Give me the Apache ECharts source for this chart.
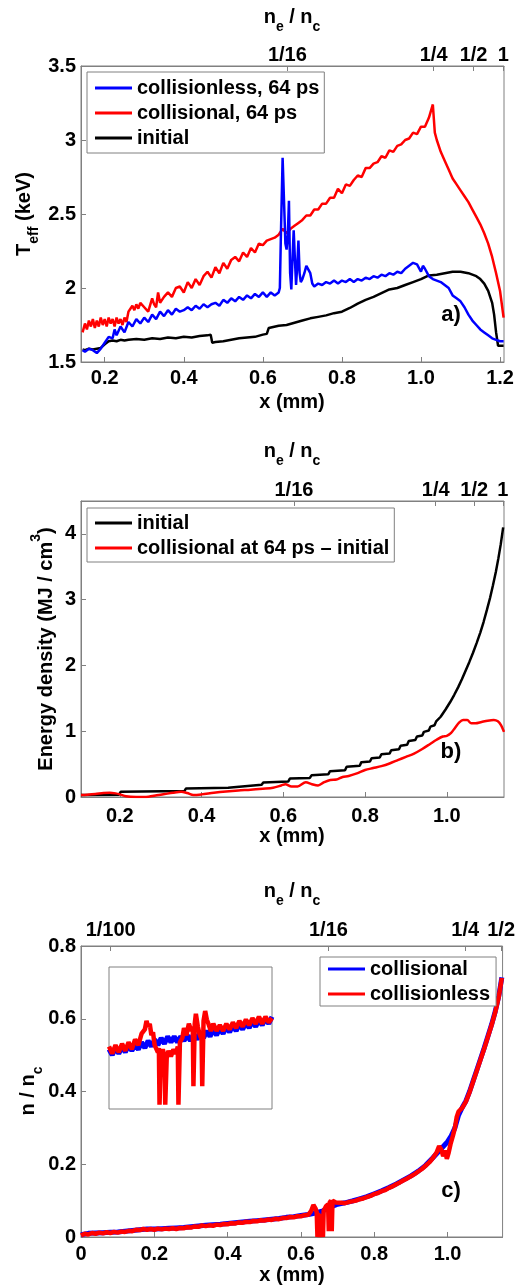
<!DOCTYPE html>
<html><head><meta charset="utf-8">
<script src="https://cdn.jsdelivr.net/npm/echarts@6/dist/echarts.min.js"></script>
<style>html,body{margin:0;padding:0;background:#fff}#chart{width:518px;height:1285px}</style>
</head><body><div id="chart"></div>
<script>
const FONT = '"Liberation Sans", Arial, Helvetica, sans-serif';

// ---------- Panel a) ----------
const aBottomTicks = [0.2, 0.4, 0.6, 0.8, 1.0, 1.2];
const aYTicks = [1.5, 2, 2.5, 3, 3.5];
const aTopTickPos = [0.662, 1.032, 1.133, 1.208];
const aTopTickLabels = ['1/16', '1/4', '1/2', '1'];
const aCollisionless = [
[0.144,1.58],[0.15,1.57],[0.16,1.59],[0.17,1.58],[0.18,1.56],[0.19,1.59],[0.20,1.63],[0.21,1.67],[0.22,1.66],[0.225,1.72],[0.23,1.68],[0.24,1.74],[0.25,1.70],[0.26,1.77],[0.27,1.74],[0.28,1.79],[0.29,1.76],[0.30,1.80],[0.31,1.77],[0.32,1.82],[0.33,1.79],[0.34,1.84],[0.35,1.81],[0.36,1.85],[0.37,1.82],[0.38,1.86],[0.39,1.84],[0.40,1.85],[0.41,1.87],[0.42,1.85],[0.43,1.88],[0.44,1.86],[0.45,1.89],[0.46,1.87],[0.47,1.89],[0.48,1.90],[0.49,1.88],[0.50,1.92],[0.51,1.90],[0.52,1.93],[0.53,1.91],[0.54,1.94],[0.55,1.92],[0.56,1.95],[0.57,1.93],[0.58,1.96],[0.59,1.94],[0.60,1.97],[0.61,1.94],[0.62,1.97],[0.63,1.95],[0.64,1.97],[0.643,2.00],[0.646,2.40],[0.650,2.88],[0.654,2.55],[0.657,2.30],[0.660,2.26],[0.663,2.35],[0.666,2.59],[0.669,2.10],[0.672,1.99],[0.675,2.20],[0.678,2.39],[0.681,2.20],[0.684,2.02],[0.687,2.15],[0.690,2.32],[0.693,2.10],[0.696,2.04],[0.70,2.06],[0.705,2.10],[0.71,2.15],[0.715,2.16],[0.72,2.10],[0.725,2.03],[0.73,2.01],[0.74,2.03],[0.75,2.02],[0.76,2.04],[0.77,2.03],[0.78,2.05],[0.79,2.03],[0.80,2.05],[0.81,2.04],[0.82,2.06],[0.83,2.04],[0.84,2.06],[0.85,2.05],[0.86,2.07],[0.87,2.06],[0.88,2.08],[0.89,2.07],[0.90,2.09],[0.91,2.08],[0.92,2.10],[0.93,2.09],[0.94,2.11],[0.95,2.10],[0.96,2.13],[0.97,2.15],[0.98,2.17],[0.99,2.16],[1.00,2.11],[1.005,2.15],[1.01,2.13],[1.02,2.08],[1.03,2.06],[1.04,2.05],[1.05,2.04],[1.06,2.02],[1.07,2.00],[1.08,1.95],[1.09,1.93],[1.10,1.91],[1.11,1.87],[1.12,1.82],[1.13,1.78],[1.14,1.75],[1.15,1.72],[1.16,1.70],[1.17,1.68],[1.18,1.66],[1.19,1.65],[1.20,1.64],[1.209,1.64]
];
const aCollisional = [
[0.144,1.70],[0.15,1.76],[0.155,1.72],[0.16,1.78],[0.165,1.74],[0.17,1.79],[0.175,1.73],[0.18,1.78],[0.185,1.74],[0.19,1.80],[0.195,1.75],[0.20,1.79],[0.205,1.74],[0.21,1.80],[0.215,1.76],[0.22,1.79],[0.225,1.74],[0.23,1.80],[0.235,1.76],[0.24,1.79],[0.245,1.75],[0.25,1.80],[0.255,1.77],[0.26,1.84],[0.27,1.88],[0.275,1.85],[0.28,1.89],[0.285,1.86],[0.29,1.90],[0.30,1.87],[0.31,1.84],[0.32,1.93],[0.325,1.89],[0.33,1.87],[0.335,1.97],[0.34,1.90],[0.35,1.94],[0.36,1.97],[0.37,1.94],[0.38,2.00],[0.39,2.01],[0.40,1.97],[0.41,2.04],[0.42,2.00],[0.43,2.06],[0.44,2.02],[0.45,2.08],[0.46,2.11],[0.47,2.07],[0.48,2.14],[0.49,2.10],[0.50,2.17],[0.51,2.13],[0.52,2.19],[0.53,2.21],[0.54,2.18],[0.55,2.24],[0.56,2.21],[0.57,2.27],[0.58,2.24],[0.59,2.30],[0.60,2.29],[0.61,2.32],[0.62,2.33],[0.63,2.34],[0.64,2.36],[0.65,2.40],[0.66,2.37],[0.67,2.40],[0.68,2.42],[0.69,2.44],[0.70,2.46],[0.71,2.49],[0.72,2.49],[0.73,2.53],[0.74,2.53],[0.75,2.57],[0.76,2.57],[0.77,2.61],[0.78,2.61],[0.79,2.67],[0.80,2.64],[0.81,2.70],[0.82,2.69],[0.83,2.73],[0.84,2.76],[0.85,2.75],[0.86,2.81],[0.87,2.81],[0.88,2.84],[0.89,2.85],[0.90,2.89],[0.91,2.88],[0.92,2.93],[0.93,2.92],[0.94,2.96],[0.95,2.97],[0.96,3.00],[0.97,3.01],[0.98,3.05],[0.99,3.04],[1.00,3.09],[1.01,3.09],[1.02,3.15],[1.03,3.24],[1.035,3.05],[1.04,3.00],[1.05,2.92],[1.06,2.86],[1.07,2.80],[1.08,2.74],[1.09,2.70],[1.10,2.66],[1.11,2.62],[1.12,2.58],[1.13,2.53],[1.14,2.48],[1.15,2.43],[1.16,2.37],[1.17,2.30],[1.18,2.21],[1.19,2.10],[1.20,1.98],[1.209,1.80]
];
const aInitial = [
[0.144,1.585],[0.15,1.58],[0.16,1.59],[0.17,1.585],[0.18,1.59],[0.19,1.595],[0.20,1.62],[0.21,1.64],[0.22,1.645],[0.23,1.64],[0.24,1.65],[0.25,1.645],[0.26,1.65],[0.28,1.655],[0.30,1.65],[0.32,1.66],[0.34,1.655],[0.36,1.665],[0.38,1.66],[0.40,1.67],[0.42,1.665],[0.44,1.675],[0.46,1.68],[0.468,1.685],[0.472,1.63],[0.48,1.635],[0.50,1.64],[0.52,1.65],[0.54,1.66],[0.56,1.665],[0.58,1.67],[0.60,1.685],[0.61,1.69],[0.615,1.73],[0.62,1.735],[0.64,1.745],[0.66,1.75],[0.68,1.765],[0.70,1.78],[0.72,1.795],[0.74,1.805],[0.76,1.815],[0.78,1.83],[0.80,1.84],[0.82,1.865],[0.84,1.895],[0.86,1.92],[0.88,1.94],[0.90,1.965],[0.92,1.99],[0.94,2.00],[0.96,2.02],[0.98,2.04],[1.00,2.06],[1.02,2.085],[1.04,2.09],[1.06,2.10],[1.08,2.11],[1.10,2.11],[1.12,2.10],[1.14,2.08],[1.15,2.06],[1.16,2.03],[1.17,1.98],[1.18,1.90],[1.185,1.82],[1.19,1.70],[1.195,1.61],[1.209,1.61]
];

// ---------- Panel b) ----------
const bBottomTicks = [0.2, 0.4, 0.6, 0.8, 1.0];
const bYTicks = [0, 1, 2, 3, 4];
const bTopTickPos = [0.626, 0.973, 1.067, 1.137];
const bTopTickLabels = ['1/16', '1/4', '1/2', '1'];
const bInitial = [
[0.105,0.03],[0.198,0.035],[0.202,0.08],[0.358,0.09],[0.362,0.13],[0.465,0.14],[0.469,0.17],[0.547,0.185],[0.551,0.22],[0.612,0.235],[0.616,0.28],[0.665,0.29],[0.669,0.33],[0.710,0.345],[0.714,0.39],[0.751,0.405],[0.755,0.46],[0.787,0.475],[0.791,0.53],[0.812,0.54],[0.816,0.59],[0.836,0.60],[0.840,0.65],[0.860,0.66],[0.864,0.71],[0.883,0.725],[0.887,0.78],[0.903,0.795],[0.907,0.85],[0.923,0.865],[0.927,0.92],[0.940,0.935],[0.944,0.99],[0.956,1.01],[0.960,1.07],[0.970,1.09],[0.974,1.15],[0.985,1.22],[0.997,1.33],[1.008,1.44],[1.018,1.55],[1.028,1.67],[1.037,1.79],[1.046,1.92],[1.055,2.05],[1.064,2.19],[1.073,2.34],[1.082,2.50],[1.090,2.66],[1.098,2.84],[1.106,3.03],[1.113,3.22],[1.120,3.42],[1.126,3.62],[1.132,3.84],[1.138,4.10]
];
const bCollisionalMinusInitial = [
[0.105,0.03],[0.12,0.035],[0.14,0.045],[0.16,0.06],[0.175,0.065],[0.19,0.055],[0.20,0.04],[0.215,0.01],[0.24,0.0],[0.27,0.005],[0.29,0.025],[0.31,0.045],[0.33,0.065],[0.35,0.08],[0.365,0.06],[0.38,0.03],[0.40,0.04],[0.43,0.065],[0.46,0.085],[0.49,0.10],[0.52,0.11],[0.55,0.125],[0.575,0.14],[0.595,0.175],[0.605,0.195],[0.62,0.16],[0.635,0.16],[0.655,0.225],[0.67,0.195],[0.685,0.175],[0.70,0.225],[0.715,0.26],[0.73,0.265],[0.745,0.305],[0.76,0.32],[0.78,0.36],[0.80,0.41],[0.82,0.44],[0.84,0.47],[0.86,0.51],[0.88,0.56],[0.90,0.61],[0.92,0.66],[0.94,0.73],[0.96,0.81],[0.975,0.87],[0.99,0.92],[1.0,0.93],[1.01,0.97],[1.02,1.05],[1.03,1.13],[1.04,1.17],[1.05,1.17],[1.06,1.12],[1.07,1.12],[1.085,1.14],[1.10,1.16],[1.115,1.17],[1.125,1.15],[1.133,1.09],[1.14,0.99]
];

// ---------- Panel c) ----------
const cBottomTicks = [0, 0.2, 0.4, 0.6, 0.8, 1.0];
const cYTicks = [0, 0.2, 0.4, 0.6, 0.8];
const cTopTickPos = [0.081, 0.675, 1.048, 1.146];
const cTopTickLabels = ['1/100', '1/16', '1/4', '1/2'];
const cCollisional = [
[0.000,0.006],[0.020,0.010],[0.040,0.011],[0.060,0.012],[0.080,0.013],[0.100,0.014],[0.120,0.016],[0.140,0.018],[0.160,0.020],[0.180,0.022],[0.200,0.022],[0.220,0.023],[0.240,0.024],[0.260,0.025],[0.280,0.026],[0.300,0.028],[0.320,0.030],[0.340,0.032],[0.360,0.034],[0.380,0.035],[0.400,0.037],[0.420,0.039],[0.440,0.041],[0.460,0.043],[0.480,0.045],[0.500,0.047],[0.520,0.049],[0.540,0.051],[0.560,0.054],[0.580,0.056],[0.600,0.059],[0.620,0.062],[0.640,0.066],[0.660,0.072],[0.680,0.082],[0.700,0.090],[0.720,0.094],[0.740,0.099],[0.760,0.105],[0.780,0.111],[0.800,0.119],[0.820,0.127],[0.840,0.136],[0.860,0.146],[0.880,0.157],[0.900,0.168],[0.920,0.181],[0.940,0.197],[0.960,0.218],[0.980,0.240],[1.000,0.262],[1.010,0.278],[1.020,0.300],[1.030,0.335],[1.040,0.356],[1.050,0.374],[1.060,0.400],[1.070,0.430],[1.080,0.460],[1.090,0.490],[1.100,0.520],[1.110,0.552],[1.120,0.584],[1.130,0.620],[1.140,0.664],[1.148,0.714]
];
const cCollisionless = [
[0.000,0.004],[0.010,0.009],[0.020,0.007],[0.030,0.011],[0.040,0.009],[0.050,0.012],[0.060,0.010],[0.070,0.013],[0.080,0.011],[0.090,0.014],[0.100,0.012],[0.110,0.015],[0.120,0.014],[0.130,0.017],[0.140,0.016],[0.150,0.020],[0.160,0.019],[0.170,0.022],[0.180,0.020],[0.190,0.022],[0.200,0.020],[0.210,0.023],[0.220,0.021],[0.230,0.023],[0.240,0.022],[0.250,0.024],[0.260,0.022],[0.270,0.025],[0.280,0.024],[0.290,0.027],[0.300,0.026],[0.310,0.029],[0.320,0.028],[0.330,0.032],[0.340,0.030],[0.350,0.032],[0.360,0.031],[0.370,0.034],[0.380,0.033],[0.390,0.036],[0.400,0.035],[0.410,0.038],[0.420,0.037],[0.430,0.040],[0.440,0.039],[0.450,0.042],[0.460,0.041],[0.470,0.044],[0.480,0.043],[0.490,0.046],[0.500,0.045],[0.510,0.048],[0.520,0.047],[0.530,0.050],[0.540,0.049],[0.550,0.052],[0.560,0.052],[0.570,0.055],[0.580,0.054],[0.590,0.057],[0.600,0.057],[0.610,0.060],[0.620,0.061],[0.628,0.072],[0.634,0.088],[0.640,0.078],[0.643,0.068],[0.645,0.000],[0.647,0.066],[0.649,0.064],[0.651,0.000],[0.653,0.063],[0.658,0.066],[0.660,0.000],[0.662,0.072],[0.668,0.084],[0.674,0.090],[0.676,0.016],[0.678,0.094],[0.682,0.100],[0.684,0.016],[0.686,0.100],[0.690,0.103],[0.695,0.095],[0.700,0.092],[0.710,0.094],[0.720,0.093],[0.730,0.096],[0.740,0.098],[0.750,0.100],[0.760,0.104],[0.770,0.106],[0.780,0.110],[0.790,0.113],[0.800,0.118],[0.810,0.121],[0.820,0.126],[0.830,0.129],[0.840,0.135],[0.850,0.139],[0.860,0.145],[0.870,0.150],[0.880,0.156],[0.890,0.161],[0.900,0.167],[0.910,0.173],[0.920,0.180],[0.930,0.187],[0.940,0.196],[0.950,0.205],[0.960,0.217],[0.970,0.232],[0.977,0.250],[0.983,0.240],[0.988,0.222],[0.993,0.238],[0.998,0.215],[1.003,0.232],[1.008,0.255],[1.015,0.280],[1.020,0.300],[1.025,0.330],[1.030,0.345],[1.040,0.355],[1.050,0.372],[1.060,0.398],[1.070,0.428],[1.080,0.458],[1.090,0.488],[1.100,0.518],[1.110,0.550],[1.120,0.582],[1.130,0.618],[1.140,0.662],[1.148,0.712]
];
// inset (own relative units: x 0..100 across the inset, y 0..1 bottom to top)
const insetCollisional = [
[0,0.42],[2,0.38],[4,0.43],[6,0.39],[8,0.44],[10,0.40],[12,0.45],[14,0.41],[16,0.45],[18,0.42],[20,0.47],[22,0.43],[24,0.48],[26,0.44],[28,0.49],[30,0.45],[32,0.50],[34,0.46],[36,0.51],[38,0.47],[40,0.51],[42,0.47],[44,0.51],[46,0.48],[48,0.52],[50,0.48],[52,0.53],[54,0.49],[56,0.54],[58,0.50],[60,0.55],[62,0.51],[64,0.56],[66,0.52],[68,0.57],[70,0.53],[72,0.58],[74,0.54],[76,0.59],[78,0.55],[80,0.60],[82,0.56],[84,0.61],[86,0.57],[88,0.62],[90,0.58],[92,0.63],[94,0.59],[96,0.64],[98,0.60],[100,0.65]
];
const insetCollisionless = [
[0,0.44],[2,0.39],[4,0.45],[6,0.40],[8,0.46],[10,0.41],[12,0.47],[14,0.42],[16,0.49],[18,0.45],[20,0.53],[22,0.56],[23,0.62],[24,0.58],[25,0.60],[26,0.52],[27,0.54],[28,0.45],[29,0.46],[30,0.40],[30.6,0.43],[31,0.03],[31.5,0.03],[31.9,0.39],[33,0.42],[34.1,0.37],[34.5,0.03],[35,0.03],[35.4,0.36],[36.5,0.41],[38,0.37],[39.5,0.42],[41,0.39],[42.2,0.44],[42.6,0.03],[43.1,0.03],[43.5,0.47],[45,0.50],[46,0.57],[47.5,0.52],[49,0.60],[50.5,0.55],[51.4,0.58],[51.8,0.16],[52.2,0.16],[52.6,0.60],[53.3,0.67],[54.5,0.58],[55.5,0.53],[56.8,0.49],[57.2,0.16],[57.6,0.16],[58,0.62],[59,0.69],[60,0.63],[61,0.60],[62.5,0.55],[64,0.60],[66,0.55],[68,0.59],[70,0.55],[72,0.60],[74,0.56],[76,0.61],[78,0.57],[80,0.62],[82,0.58],[84,0.63],[86,0.59],[88,0.64],[90,0.60],[92,0.65],[94,0.60],[96,0.65],[98,0.61],[100,0.64]
];

// ---------- helpers ----------
const GRAY = '#808080';
const labelBase = { color: '#000', fontSize: 20, fontWeight: 'bold', fontFamily: FONT };
function nearestLabel(pos, labels) {
  return function (v) {
    let best = 0, d = Infinity;
    pos.forEach((p, i) => { const e = Math.abs(p - v); if (e < d) { d = e; best = i; } });
    return labels[best];
  };
}
function bottomAxis(grid, min, max, ticks, margin, fmt) {
  return { type: 'value', gridIndex: grid, position: 'bottom', min, max,
    axisLine: { show: true, onZero: false, lineStyle: { color: GRAY, width: 1 } },
    axisTick: { show: true, inside: true, length: 5, customValues: ticks, lineStyle: { color: GRAY } },
    axisLabel: Object.assign({ customValues: ticks, margin, formatter: fmt }, labelBase),
    splitLine: { show: false } };
}
function topAxis(grid, min, max, pos, labels, margin) {
  return { type: 'value', gridIndex: grid, position: 'top', min, max,
    axisLine: { show: true, onZero: false, lineStyle: { color: GRAY, width: 1 } },
    axisTick: { show: true, inside: true, length: 5, customValues: pos, lineStyle: { color: GRAY } },
    axisLabel: Object.assign({ customValues: pos, margin, formatter: nearestLabel(pos, labels) }, labelBase),
    splitLine: { show: false } };
}
function leftAxis(grid, min, max, ticks) {
  return { type: 'value', gridIndex: grid, position: 'left', min, max,
    axisLine: { show: true, onZero: false, lineStyle: { color: GRAY, width: 1 } },
    axisTick: { show: true, inside: true, length: 5, customValues: ticks, lineStyle: { color: GRAY } },
    axisLabel: Object.assign({ customValues: ticks, margin: 5, formatter: v => String(v) }, labelBase),
    splitLine: { show: false } };
}
const fmt1 = v => (v === 0 ? '0' : v.toFixed(1));
function line(name, data, color, xi, yi, width, extra) {
  return Object.assign({ type: 'line', name, data, xAxisIndex: xi, yAxisIndex: yi,
    showSymbol: false, symbol: 'none', lineStyle: { color, width }, itemStyle: { color },
    emphasis: { disabled: true }, animation: false, z: 2 }, extra || {});
}
function legendBox(names, left, top, pad) {
  return { data: names, orient: 'vertical', left, top, padding: pad, itemGap: 1,
    itemWidth: 37, itemHeight: 3, icon: 'rect', selectedMode: false,
    borderColor: GRAY, borderWidth: 1, backgroundColor: '#fff',
    textStyle: { color: '#000', fontSize: 20, fontWeight: 'bold', fontFamily: FONT, lineHeight: 24 } };
}
const rich = {
  b: { fontSize: 20, fontWeight: 'bold', fontFamily: FONT, fill: '#000', color: '#000', lineHeight: 34, verticalAlign: 'middle' },
  s: { fontSize: 14, fontWeight: 'bold', fontFamily: FONT, fill: '#000', color: '#000', lineHeight: 14, verticalAlign: 'bottom' },
  p: { fontSize: 14, fontWeight: 'bold', fontFamily: FONT, fill: '#000', color: '#000', lineHeight: 14, verticalAlign: 'top' }
};
function gText(text, x, y, rot, size) {
  return { type: 'text', x, y, rotation: rot || 0, z: 50,
    style: { text, x: 0, y: 0, align: 'center', verticalAlign: 'middle', rich,
      fontSize: size || 20, fontWeight: 'bold', fontFamily: FONT, fill: '#000' } };
}

const option = {
  animation: false,
  backgroundColor: '#fff',
  grid: [
    { left: 81, top: 66, width: 423, height: 296, show: true, borderColor: GRAY, borderWidth: 1, backgroundColor: 'transparent' },
    { left: 81, top: 501, width: 423, height: 296, show: true, borderColor: GRAY, borderWidth: 1, backgroundColor: 'transparent' },
    { left: 81, top: 946, width: 423, height: 291, show: true, borderColor: GRAY, borderWidth: 1, backgroundColor: 'transparent' },
    { left: 109, top: 967, width: 163, height: 142, show: true, borderColor: GRAY, borderWidth: 1, backgroundColor: 'transparent' }
  ],
  xAxis: [
    bottomAxis(0, 0.14, 1.21, aBottomTicks, 6, fmt1),
    topAxis(0, 0.14, 1.21, aTopTickPos, aTopTickLabels, 1),
    bottomAxis(1, 0.105, 1.14, bBottomTicks, 9, fmt1),
    topAxis(1, 0.105, 1.14, bTopTickPos, bTopTickLabels, 1),
    bottomAxis(2, 0, 1.15, cBottomTicks, 7, fmt1),
    topAxis(2, 0, 1.15, cTopTickPos, cTopTickLabels, 6),
    { type: 'value', gridIndex: 3, min: 0, max: 100, show: false }
  ],
  yAxis: [
    leftAxis(0, 1.5, 3.5, aYTicks),
    leftAxis(1, 0, 4.5, bYTicks),
    leftAxis(2, 0, 0.8, cYTicks),
    { type: 'value', gridIndex: 3, min: 0, max: 1, show: false }
  ],
  legend: [
    legendBox(['collisionless, 64 ps', 'collisional, 64 ps', 'initial'], 87, 72, [4, 5, 3, 8]),
    legendBox(['initial', 'collisional at 64 ps \u2013 initial'], 87, 508, [3, 5, 2, 8]),
    legendBox(['collisional', 'collisionless'], 320, 957, [0, 6, 0, 8])
  ],
  series: [
    line('initial', aInitial, '#000000', 0, 0, 2.5),
    line('collisional, 64 ps', aCollisional, '#ff0000', 0, 0, 2.5),
    line('collisionless, 64 ps', aCollisionless, '#0000ff', 0, 0, 2.5),
    line('initial', bInitial, '#000000', 2, 1, 2.5),
    line('collisional at 64 ps \u2013 initial', bCollisionalMinusInitial, '#ff0000', 2, 1, 2.5, { smooth: 0.3 }),
    line('collisional', cCollisional, '#0000ff', 4, 2, 5),
    line('collisionless', cCollisionless, '#ff0000', 4, 2, 4.5),
    line('collisional inset', insetCollisional, '#0000ff', 6, 3, 5),
    line('collisionless inset', insetCollisionless, '#ff0000', 6, 3, 4.5)
  ],
  graphic: [
    gText('{b|n}{s|e}{b| / n}{s|c}', 292, 17),
    gText('{b|n}{s|e}{b| / n}{s|c}', 292, 451),
    gText('{b|n}{s|e}{b| / n}{s|c}', 292, 891),
    gText('x (mm)', 292, 402),
    gText('x (mm)', 292, 836),
    gText('x (mm)', 292, 1275),
    gText('{b|T}{s|eff}{b| (keV)}', 24, 214, Math.PI / 2),
    gText('{b|Energy density (MJ / cm}{p|3}{b|)}', 46, 649, Math.PI / 2),
    gText('{b|n / n}{s|c}', 28, 1091, Math.PI / 2),
    gText('a)', 451, 315, 0, 22),
    gText('b)', 451, 752, 0, 22),
    gText('c)', 451, 1191, 0, 22)
  ]
};
const chart = echarts.init(document.getElementById('chart'), null, { renderer: 'canvas' });
chart.setOption(option);
</script>
</body></html>
